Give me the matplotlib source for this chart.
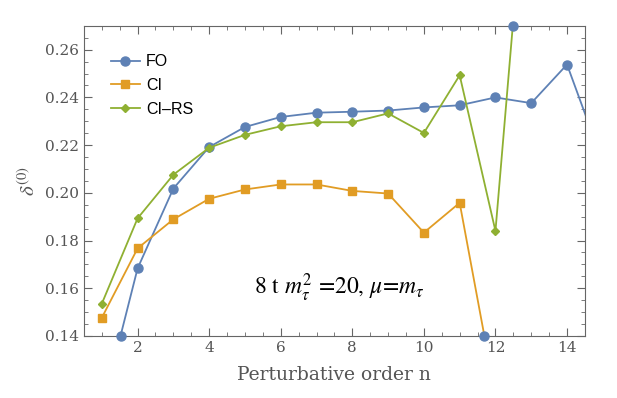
import numpy as np
import matplotlib.pyplot as plt
from matplotlib.ticker import MultipleLocator

# Data
n_fo = [1, 2, 3, 4, 5, 6, 7, 8, 9, 10, 11, 12, 13, 14, 15]
fo = [0.109, 0.1683, 0.2018, 0.2192, 0.2276, 0.2318, 0.2336, 0.2340, 0.2345,
      0.2358, 0.2367, 0.2400, 0.2376, 0.2538, 0.2128]

n_ci = [1, 2, 3, 4, 5, 6, 7, 8, 9, 10, 11, 12]
ci = [0.1476, 0.1767, 0.1889, 0.1975, 0.2014, 0.2035, 0.2035, 0.2008, 0.1997,
      0.1833, 0.1958, 0.115]

n_cirs = [1, 2, 3, 4, 5, 6, 7, 8, 9, 10, 11, 12, 13]
cirs = [0.1535, 0.1893, 0.2076, 0.2189, 0.2243, 0.2279, 0.2296, 0.2296, 0.2333,
        0.2251, 0.2493, 0.1840, 0.3615]

xlim = (0.5, 14.5)
ylim = (0.14, 0.27)

blue = '#5E81B5'
orange = '#E19C24'
green = '#8FB032'
gray = '#555555'

plt.rcParams['mathtext.fontset'] = 'stix'

fig = plt.figure(figsize=(6.17, 3.98), dpi=100)
ax = fig.add_axes([0.136, 0.156, 0.812, 0.779])

ax.plot(n_fo, fo, '-o', color=blue, lw=1.3, ms=6.5, label='FO')
ax.plot(n_ci, ci, '-s', color=orange, lw=1.3, ms=5.5, label='CI')
ax.plot(n_cirs, cirs, '-D', color=green, lw=1.3, ms=4.5, label='CI\u2013RS')


# markers where lines leave the plot range vertically (as in the original)
def crossings(x, y):
    pts = []
    for i in range(len(x) - 1):
        for b in ylim:
            if (y[i] - b) * (y[i + 1] - b) < 0:
                t = (b - y[i]) / (y[i + 1] - y[i])
                xc = x[i] + t * (x[i + 1] - x[i])
                if xlim[0] <= xc <= xlim[1]:
                    pts.append((xc, b))
    return pts


for xs, ys in [(n_fo, fo), (n_ci, ci), (n_cirs, cirs)]:
    for xc, yc in crossings(xs, ys):
        ax.plot(xc, yc, 'o', color=blue, ms=6.5, clip_on=False, zorder=5)

ax.set_xlim(*xlim)
ax.set_ylim(*ylim)

ax.xaxis.set_major_locator(MultipleLocator(2))
ax.xaxis.set_minor_locator(MultipleLocator(0.5))
ax.yaxis.set_major_locator(MultipleLocator(0.02))
ax.yaxis.set_minor_locator(MultipleLocator(0.005))
ax.yaxis.set_major_formatter(plt.FuncFormatter(lambda v, p: f'{v:.2f}'))

ax.tick_params(which='both', direction='in', top=True, right=True, color='#666666',
               labelcolor=gray, labelsize=11)
ax.tick_params(which='major', length=6)
ax.tick_params(which='minor', length=3)
for lbl in ax.get_xticklabels() + ax.get_yticklabels():
    lbl.set_family('DejaVu Serif')
for s in ax.spines.values():
    s.set_color('#666666')

ax.set_xlabel('Perturbative order n', family='DejaVu Serif', fontsize=13.5,
              color=gray, labelpad=8)
ax.set_ylabel(r'$\delta^{(0)}$', fontsize=15, color=gray)

ax.text(0.51, 0.155, r'8 t $m_\tau^2$ =20, $\mu$=$m_\tau$', transform=ax.transAxes,
        ha='center', va='center', fontsize=17, family='STIXGeneral')

leg = ax.legend(loc='upper left', frameon=False, handlelength=1.8,
                labelspacing=0.55, handletextpad=0.4, bbox_to_anchor=(0.025, 0.955),
                prop={'family': 'Liberation Sans', 'size': 11.5})

fig.savefig('out.png', dpi=100)
